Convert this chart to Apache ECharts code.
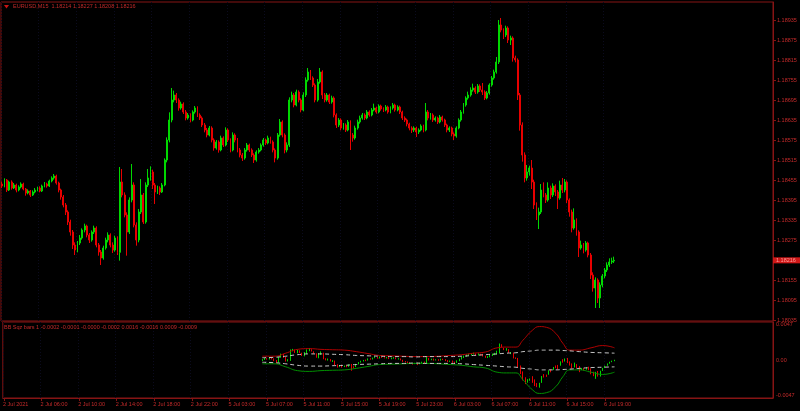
<!DOCTYPE html>
<html><head><meta charset="utf-8">
<script src="https://cdn.jsdelivr.net/npm/echarts@6/dist/echarts.min.js"></script>
<style>html,body{margin:0;padding:0;background:#000;}#c{width:800px;height:411px;}</style>
</head><body><div id="c"></div>
<script>
// ---- data (EURUSD M15) ----
const timeTickBars = [0,16,32,48,64,80,96,112,128,144,160,176,192,208,224,240,256];
const timeTickLabels = ['2 Jul 2021','2 Jul 06:00','2 Jul 10:00','2 Jul 14:00','2 Jul 18:00','2 Jul 22:00','5 Jul 03:00','5 Jul 07:00','5 Jul 11:00','5 Jul 15:00','5 Jul 19:00','5 Jul 23:00','6 Jul 03:00','6 Jul 07:00','6 Jul 11:00','6 Jul 15:00','6 Jul 19:00'];
const priceTicks = [1.18035,1.18095,1.18155,1.18275,1.18335,1.18395,1.18455,1.18515,1.18575,1.18635,1.18695,1.18755,1.18815,1.18875,1.18935];
const lastPrice = 1.18216;
const sqzTicks = [0.0047, 0, -0.0047];

const open = [1.18445,1.18439,1.18457,1.18427,1.18451,1.18433,1.18442,1.18427,1.18436,1.18445,
1.18430,1.18418,1.18424,1.18412,1.18421,1.18427,1.18433,1.18424,1.18439,1.18445,
1.18439,1.18454,1.18463,1.18469,1.18448,1.18427,1.18406,1.18382,1.18361,1.18331,
1.18301,1.18262,1.18247,1.18268,1.18283,1.18307,1.18319,1.18292,1.18277,1.18301,
1.18313,1.18262,1.18241,1.18223,1.18253,1.18277,1.18292,1.18262,1.18247,1.18283,
1.18240,1.18451,1.18412,1.18352,1.18301,1.18397,1.18442,1.18322,1.18277,1.18361,
1.18412,1.18331,1.18442,1.18463,1.18481,1.18442,1.18421,1.18433,1.18421,1.18442,
1.18517,1.18577,1.18637,1.18697,1.18712,1.18697,1.18673,1.18685,1.18661,1.18643,
1.18652,1.18637,1.18661,1.18673,1.18652,1.18643,1.18622,1.18607,1.18592,1.18613,
1.18577,1.18553,1.18571,1.18547,1.18583,1.18562,1.18607,1.18577,1.18547,1.18592,
1.18577,1.18547,1.18532,1.18523,1.18547,1.18562,1.18547,1.18532,1.18517,1.18541,
1.18547,1.18562,1.18577,1.18568,1.18583,1.18571,1.18547,1.18523,1.18592,1.18631,
1.18592,1.18547,1.18562,1.18697,1.18712,1.18682,1.18721,1.18697,1.18667,1.18712,
1.18757,1.18781,1.18763,1.18742,1.18697,1.18751,1.18781,1.18712,1.18697,1.18712,
1.18691,1.18703,1.18652,1.18622,1.18637,1.18613,1.18622,1.18607,1.18631,1.18592,
1.18583,1.18613,1.18631,1.18643,1.18652,1.18643,1.18661,1.18652,1.18667,1.18673,
1.18661,1.18679,1.18670,1.18667,1.18676,1.18661,1.18673,1.18682,1.18667,1.18676,
1.18661,1.18643,1.18637,1.18625,1.18613,1.18607,1.18613,1.18601,1.18607,1.18619,
1.18607,1.18661,1.18643,1.18652,1.18637,1.18643,1.18631,1.18646,1.18637,1.18622,
1.18607,1.18613,1.18595,1.18589,1.18613,1.18637,1.18661,1.18682,1.18703,1.18712,
1.18727,1.18733,1.18721,1.18739,1.18727,1.18721,1.18703,1.18718,1.18742,1.18763,
1.18781,1.18811,1.18922,1.18907,1.18892,1.18913,1.18877,1.18883,1.18823,1.18817,
1.18712,1.18622,1.18532,1.18463,1.18481,1.18493,1.18451,1.18382,1.18352,1.18361,
1.18427,1.18412,1.18397,1.18433,1.18412,1.18439,1.18421,1.18403,1.18442,1.18427,
1.18451,1.18397,1.18361,1.18313,1.18337,1.18301,1.18253,1.18262,1.18247,1.18268,
1.18232,1.18172,1.18133,1.18157,1.18103,1.18142,1.18169,1.18187,1.18202,1.18211,
1.18214];

const close = [1.18439,1.18457,1.18427,1.18451,1.18433,1.18442,1.18427,1.18436,1.18445,1.18430,
1.18418,1.18424,1.18412,1.18421,1.18427,1.18433,1.18424,1.18439,1.18445,1.18439,
1.18454,1.18463,1.18469,1.18448,1.18427,1.18406,1.18382,1.18361,1.18331,1.18301,
1.18262,1.18247,1.18268,1.18283,1.18307,1.18319,1.18292,1.18277,1.18301,1.18313,
1.18262,1.18241,1.18223,1.18253,1.18277,1.18292,1.18262,1.18247,1.18283,1.18240,
1.18451,1.18412,1.18352,1.18301,1.18397,1.18442,1.18322,1.18277,1.18361,1.18412,
1.18331,1.18442,1.18463,1.18481,1.18442,1.18421,1.18433,1.18421,1.18442,1.18517,
1.18577,1.18637,1.18697,1.18712,1.18697,1.18673,1.18685,1.18661,1.18643,1.18652,
1.18637,1.18661,1.18673,1.18652,1.18643,1.18622,1.18607,1.18592,1.18613,1.18577,
1.18553,1.18571,1.18547,1.18583,1.18562,1.18607,1.18577,1.18547,1.18592,1.18577,
1.18547,1.18532,1.18523,1.18547,1.18562,1.18547,1.18532,1.18517,1.18541,1.18547,
1.18562,1.18577,1.18568,1.18583,1.18571,1.18547,1.18523,1.18592,1.18631,1.18592,
1.18547,1.18562,1.18697,1.18712,1.18682,1.18721,1.18697,1.18667,1.18712,1.18757,
1.18781,1.18763,1.18742,1.18697,1.18751,1.18781,1.18712,1.18697,1.18712,1.18691,
1.18703,1.18652,1.18622,1.18637,1.18613,1.18622,1.18607,1.18631,1.18592,1.18583,
1.18613,1.18631,1.18643,1.18652,1.18643,1.18661,1.18652,1.18667,1.18673,1.18661,
1.18679,1.18670,1.18667,1.18676,1.18661,1.18673,1.18682,1.18667,1.18676,1.18661,
1.18643,1.18637,1.18625,1.18613,1.18607,1.18613,1.18601,1.18607,1.18619,1.18607,
1.18661,1.18643,1.18652,1.18637,1.18643,1.18631,1.18646,1.18637,1.18622,1.18607,
1.18613,1.18595,1.18589,1.18613,1.18637,1.18661,1.18682,1.18703,1.18712,1.18727,
1.18733,1.18721,1.18739,1.18727,1.18721,1.18703,1.18718,1.18742,1.18763,1.18781,
1.18811,1.18922,1.18907,1.18892,1.18913,1.18877,1.18883,1.18823,1.18817,1.18712,
1.18622,1.18532,1.18463,1.18481,1.18493,1.18451,1.18382,1.18352,1.18361,1.18427,
1.18412,1.18397,1.18433,1.18412,1.18439,1.18421,1.18403,1.18442,1.18427,1.18451,
1.18397,1.18361,1.18313,1.18337,1.18301,1.18253,1.18262,1.18247,1.18268,1.18232,
1.18172,1.18133,1.18157,1.18103,1.18142,1.18169,1.18187,1.18202,1.18211,1.18214,
1.18216];

const high = [1.18452,1.18462,1.18460,1.18455,1.18456,1.18448,1.18446,1.18441,1.18450,1.18449,
1.18433,1.18429,1.18427,1.18426,1.18433,1.18437,1.18438,1.18443,1.18451,1.18449,
1.18458,1.18468,1.18475,1.18473,1.18452,1.18431,1.18412,1.18388,1.18366,1.18338,
1.18307,1.18270,1.18274,1.18292,1.18312,1.18326,1.18323,1.18298,1.18306,1.18320,
1.18318,1.18268,1.18247,1.18260,1.18284,1.18300,1.18297,1.18270,1.18290,1.18288,
1.18496,1.18490,1.18420,1.18360,1.18405,1.18505,1.18450,1.18330,1.18370,1.18460,
1.18418,1.18450,1.18490,1.18498,1.18488,1.18448,1.18440,1.18438,1.18448,1.18522,
1.18585,1.18660,1.18733,1.18725,1.18718,1.18702,1.18692,1.18690,1.18667,1.18658,
1.18657,1.18666,1.18679,1.18678,1.18657,1.18648,1.18628,1.18613,1.18619,1.18618,
1.18582,1.18577,1.18576,1.18590,1.18588,1.18615,1.18612,1.18582,1.18600,1.18597,
1.18583,1.18553,1.18538,1.18553,1.18568,1.18566,1.18552,1.18537,1.18546,1.18553,
1.18567,1.18583,1.18581,1.18590,1.18587,1.18576,1.18552,1.18598,1.18640,1.18636,
1.18597,1.18570,1.18705,1.18722,1.18718,1.18728,1.18726,1.18702,1.18720,1.18765,
1.18793,1.18787,1.18768,1.18747,1.18760,1.18793,1.18786,1.18718,1.18718,1.18716,
1.18710,1.18708,1.18657,1.18643,1.18642,1.18628,1.18627,1.18637,1.18636,1.18598,
1.18620,1.18638,1.18650,1.18658,1.18657,1.18667,1.18666,1.18673,1.18686,1.18677,
1.18684,1.18683,1.18675,1.18682,1.18680,1.18678,1.18688,1.18686,1.18681,1.18680,
1.18665,1.18648,1.18641,1.18629,1.18618,1.18618,1.18617,1.18612,1.18624,1.18623,
1.18688,1.18667,1.18658,1.18657,1.18648,1.18647,1.18652,1.18650,1.18641,1.18626,
1.18618,1.18617,1.18600,1.18618,1.18642,1.18667,1.18688,1.18708,1.18722,1.18735,
1.18746,1.18738,1.18745,1.18744,1.18748,1.18726,1.18724,1.18747,1.18769,1.18788,
1.18826,1.18937,1.18943,1.18912,1.18920,1.18918,1.18890,1.18888,1.18830,1.18822,
1.18718,1.18630,1.18540,1.18502,1.18500,1.18517,1.18458,1.18390,1.18374,1.18445,
1.18450,1.18418,1.18450,1.18440,1.18447,1.18444,1.18427,1.18455,1.18463,1.18460,
1.18456,1.18402,1.18368,1.18372,1.18342,1.18306,1.18275,1.18268,1.18274,1.18272,
1.18238,1.18180,1.18165,1.18162,1.18150,1.18175,1.18193,1.18210,1.18222,1.18224,
1.18227];

const low = [1.18433,1.18435,1.18421,1.18424,1.18428,1.18430,1.18420,1.18423,1.18432,1.18426,
1.18410,1.18414,1.18406,1.18409,1.18417,1.18423,1.18420,1.18421,1.18435,1.18434,
1.18436,1.18450,1.18458,1.18443,1.18420,1.18398,1.18375,1.18352,1.18322,1.18290,
1.18250,1.18232,1.18240,1.18262,1.18278,1.18300,1.18285,1.18268,1.18272,1.18295,
1.18255,1.18230,1.18202,1.18218,1.18248,1.18270,1.18255,1.18238,1.18242,1.18232,
1.18215,1.18405,1.18345,1.18230,1.18295,1.18390,1.18315,1.18260,1.18270,1.18355,
1.18325,1.18326,1.18436,1.18455,1.18430,1.18385,1.18415,1.18412,1.18418,1.18438,
1.18510,1.18570,1.18630,1.18690,1.18688,1.18665,1.18668,1.18655,1.18636,1.18638,
1.18630,1.18633,1.18656,1.18646,1.18637,1.18616,1.18600,1.18585,1.18588,1.18570,
1.18545,1.18548,1.18539,1.18543,1.18556,1.18558,1.18571,1.18540,1.18543,1.18570,
1.18540,1.18525,1.18514,1.18518,1.18542,1.18541,1.18526,1.18508,1.18512,1.18536,
1.18543,1.18557,1.18562,1.18564,1.18566,1.18540,1.18510,1.18518,1.18587,1.18585,
1.18537,1.18540,1.18556,1.18690,1.18675,1.18678,1.18690,1.18660,1.18663,1.18706,
1.18752,1.18757,1.18736,1.18690,1.18692,1.18746,1.18700,1.18690,1.18692,1.18685,
1.18686,1.18645,1.18613,1.18616,1.18606,1.18608,1.18601,1.18603,1.18547,1.18572,
1.18578,1.18608,1.18626,1.18638,1.18637,1.18639,1.18647,1.18648,1.18663,1.18656,
1.18657,1.18665,1.18661,1.18663,1.18656,1.18657,1.18668,1.18662,1.18663,1.18655,
1.18637,1.18631,1.18618,1.18606,1.18598,1.18601,1.18586,1.18595,1.18603,1.18600,
1.18603,1.18636,1.18638,1.18631,1.18632,1.18625,1.18627,1.18632,1.18616,1.18600,
1.18601,1.18588,1.18577,1.18584,1.18609,1.18632,1.18656,1.18677,1.18698,1.18707,
1.18722,1.18715,1.18716,1.18721,1.18712,1.18697,1.18699,1.18713,1.18737,1.18758,
1.18776,1.18805,1.18900,1.18880,1.18886,1.18868,1.18862,1.18812,1.18810,1.18697,
1.18605,1.18512,1.18450,1.18455,1.18470,1.18430,1.18370,1.18337,1.18310,1.18355,
1.18405,1.18388,1.18392,1.18400,1.18406,1.18409,1.18370,1.18398,1.18418,1.18420,
1.18388,1.18347,1.18300,1.18308,1.18290,1.18226,1.18248,1.18237,1.18242,1.18225,
1.18160,1.18122,1.18073,1.18088,1.18073,1.18135,1.18162,1.18181,1.18196,1.18205,
1.18208];

// BB Squeeze sub-window: first bar shown, centre line (per bar), band half-widths
const sqzStart = 110;
const sqzBasis = [1.18556,1.18556,1.18557,1.18557,1.18558,1.18555,1.18552,1.18554,1.18556,1.18557,
1.18557,1.18559,1.18567,1.18576,1.18582,1.18590,1.18598,1.18606,1.18615,1.18625,
1.18636,1.18645,1.18654,1.18660,1.18669,1.18680,1.18690,1.18695,1.18699,1.18704,
1.18712,1.18716,1.18713,1.18709,1.18705,1.18701,1.18696,1.18694,1.18688,1.18680,
1.18671,1.18665,1.18660,1.18657,1.18652,1.18646,1.18643,1.18641,1.18639,1.18638,
1.18637,1.18638,1.18640,1.18642,1.18644,1.18647,1.18651,1.18652,1.18657,1.18660,
1.18662,1.18662,1.18661,1.18659,1.18658,1.18655,1.18653,1.18650,1.18647,1.18644,
1.18643,1.18642,1.18641,1.18639,1.18638,1.18636,1.18635,1.18633,1.18630,1.18628,
1.18626,1.18624,1.18622,1.18622,1.18624,1.18626,1.18630,1.18635,1.18640,1.18646,
1.18649,1.18653,1.18657,1.18662,1.18666,1.18669,1.18673,1.18678,1.18685,1.18694,
1.18704,1.18720,1.18736,1.18750,1.18764,1.18775,1.18785,1.18791,1.18796,1.18795,
1.18790,1.18780,1.18767,1.18754,1.18743,1.18730,1.18713,1.18694,1.18674,1.18656,
1.18636,1.18610,1.18586,1.18562,1.18539,1.18516,1.18492,1.18473,1.18453,1.18440,
1.18429,1.18420,1.18413,1.18406,1.18396,1.18386,1.18380,1.18375,1.18370,1.18360,
1.18348,1.18335,1.18321,1.18306,1.18291,1.18279,1.18268,1.18256,1.18245,1.18233,
1.18224];
const bandBars = [110,115,120,125,130,135,140,145,150,155,160,165,170,175,180,185,190,195,200,205,210,214,218,221,225,228,231,235,238,241,245,250,255,260];
const bbHalf = [0.0005,0.0005,0.0009,0.0014,0.0015,0.0014,0.00135,0.0013,0.0011,0.00085,0.0006,0.00055,0.0005,0.00045,0.00045,0.0005,0.0006,0.0007,0.0009,0.00105,0.0016,0.0017,0.0017,0.0026,0.0039,0.0044,0.0043,0.0035,0.0022,0.0013,0.0013,0.0016,0.0019,0.0016];
const kcHalf = [0.0003,0.00035,0.0005,0.0007,0.0008,0.0008,0.00075,0.0007,0.0006,0.00055,0.0005,0.00045,0.00045,0.0004,0.00045,0.00045,0.00045,0.0005,0.0006,0.0007,0.0008,0.0009,0.00095,0.0011,0.0012,0.0013,0.0013,0.0013,0.00125,0.0012,0.0011,0.001,0.00095,0.0009];

// ---- build ----
const SLOTS = 328;
const cats = [];
for (let i = 0; i < SLOTS; i++) cats.push('');
timeTickBars.forEach((b, k) => { cats[b] = timeTickLabels[k]; });
const tickSet = new Set(timeTickBars);

const mainData = open.map((o, i) => [o, close[i], low[i], high[i]]);
const sqzData = sqzBasis.map((b, k) => {
  const i = sqzStart + k;
  return [i, open[i] - b, close[i] - b, low[i] - b, high[i] - b];
});
const bbUp = bandBars.map((x, k) => [x, bbHalf[k]]);
const bbDn = bandBars.map((x, k) => [x, -bbHalf[k]]);
const kcUp = bandBars.map((x, k) => [x, kcHalf[k]]);
const kcDn = bandBars.map((x, k) => [x, -kcHalf[k]]);

const RED = '#e80000', GREEN = '#00d800', FRAME = '#861414', TXT = '#c42a2a';
const FONT = 'Liberation Sans';
const FS = 5.5;

const chart = echarts.init(document.getElementById('c'), null, {renderer: 'canvas'});
chart.setOption({
  backgroundColor: '#000000',
  animation: false,
  grid: [
    {left: 1, top: 2, width: 772, height: 319, show: true, borderColor: FRAME, borderWidth: 1, backgroundColor: 'transparent'},
    {left: 1, top: 322, width: 772, height: 76, show: true, borderColor: FRAME, borderWidth: 1, backgroundColor: 'transparent'}
  ],
  xAxis: [
    {type: 'category', gridIndex: 0, data: cats, boundaryGap: true,
     axisLine: {show: false}, axisTick: {show: false}, axisLabel: {show: false},
     splitLine: {show: true, interval: (i) => tickSet.has(i), lineStyle: {color: '#0b0b1e', width: 1, type: [1, 2]}}},
    {type: 'category', gridIndex: 1, data: cats, boundaryGap: true,
     axisLine: {show: true, onZero: false, lineStyle: {color: FRAME}},
     axisTick: {show: true, alignWithLabel: true, interval: (i) => tickSet.has(i), length: 3, lineStyle: {color: FRAME}},
     axisLabel: {show: true, interval: (i) => tickSet.has(i), align: 'left', color: TXT, fontSize: FS, fontFamily: FONT, margin: 3, padding: [0, 0, 0, -1]},
     splitLine: {show: true, interval: (i) => tickSet.has(i), lineStyle: {color: '#0b0b1e', width: 1, type: [1, 2]}}}
  ],
  yAxis: [
    {type: 'value', gridIndex: 0, position: 'right', min: 1.18034, max: 1.18991,
     axisLine: {show: true, lineStyle: {color: FRAME}},
     axisTick: {show: true, customValues: priceTicks, length: 3, lineStyle: {color: FRAME}},
     axisLabel: {show: true, customValues: priceTicks, formatter: (v) => v.toFixed(5), color: TXT, fontSize: FS, fontFamily: FONT, margin: 4},
     splitLine: {show: false}},
    {type: 'value', gridIndex: 1, position: 'right', min: -0.005, max: 0.005,
     axisLine: {show: true, lineStyle: {color: FRAME}},
     axisTick: {show: false},
     axisLabel: {show: true, customValues: sqzTicks, formatter: (v) => v === 0 ? '0.00' : v.toFixed(4), color: TXT, fontSize: FS, fontFamily: FONT, margin: 3},
     splitLine: {show: false}}
  ],
  series: [
    {type: 'candlestick', xAxisIndex: 0, yAxisIndex: 0, data: mainData, barWidth: 1.4,
     itemStyle: {color: GREEN, color0: RED, borderColor: GREEN, borderColor0: RED, borderWidth: 1},
     markLine: {silent: true, symbol: ['none', 'none'], animation: false,
       lineStyle: {color: '#1a1a48', width: 1, type: 'solid'},
       label: {show: false},
       data: [{yAxis: lastPrice}]}},
    {type: 'candlestick', xAxisIndex: 1, yAxisIndex: 1, data: sqzData, barWidth: 1,
     encode: {x: 0, y: [1, 2, 3, 4]},
     itemStyle: {color: GREEN, color0: RED, borderColor: GREEN, borderColor0: RED, borderWidth: 1}},
    {type: 'line', xAxisIndex: 1, yAxisIndex: 1, data: bbUp, smooth: 0.5, showSymbol: false, lineStyle: {color: '#b00000', width: 1}},
    {type: 'line', xAxisIndex: 1, yAxisIndex: 1, data: bbDn, smooth: 0.5, showSymbol: false, lineStyle: {color: '#009000', width: 1}},
    {type: 'line', xAxisIndex: 1, yAxisIndex: 1, data: kcUp, smooth: 0.5, showSymbol: false, lineStyle: {color: '#c8c8c8', width: 1, type: [4, 3]}},
    {type: 'line', xAxisIndex: 1, yAxisIndex: 1, data: kcDn, smooth: 0.5, showSymbol: false, lineStyle: {color: '#c8c8c8', width: 1, type: [4, 3]}}
  ]
});

// header texts and the bid-price box (box placed via the y scale)
const bidY = chart.convertToPixel({yAxisIndex: 0}, lastPrice);
chart.setOption({
  graphic: [
    {type: 'polygon', shape: {points: [[4, 5], [9, 5], [6.5, 8.5]]}, style: {fill: '#c81414'}},
    {type: 'text', left: 13, top: 3.5, style: {text: 'EURUSD,M15  1.18214 1.18227 1.18208 1.18216', fill: TXT, font: FS + 'px "Liberation Sans"'}},
    {type: 'text', left: 4, top: 324.5, style: {text: 'BB Sqz bars 1 -0.0002 -0.0001 -0.0000 -0.0002 0.0016 -0.0016 0.0009 -0.0009', fill: TXT, font: FS + 'px "Liberation Sans"'}},
    {type: 'rect', shape: {x: 773, y: bidY - 3, width: 27, height: 6}, style: {fill: '#d01818'}, z: 100},
    {type: 'text', x: 776, y: bidY, style: {text: lastPrice.toFixed(5), fill: '#ff9a9a', font: FS + 'px "Liberation Sans"', textVerticalAlign: 'middle'}, z: 101}
  ]
});
</script>
</body></html>
